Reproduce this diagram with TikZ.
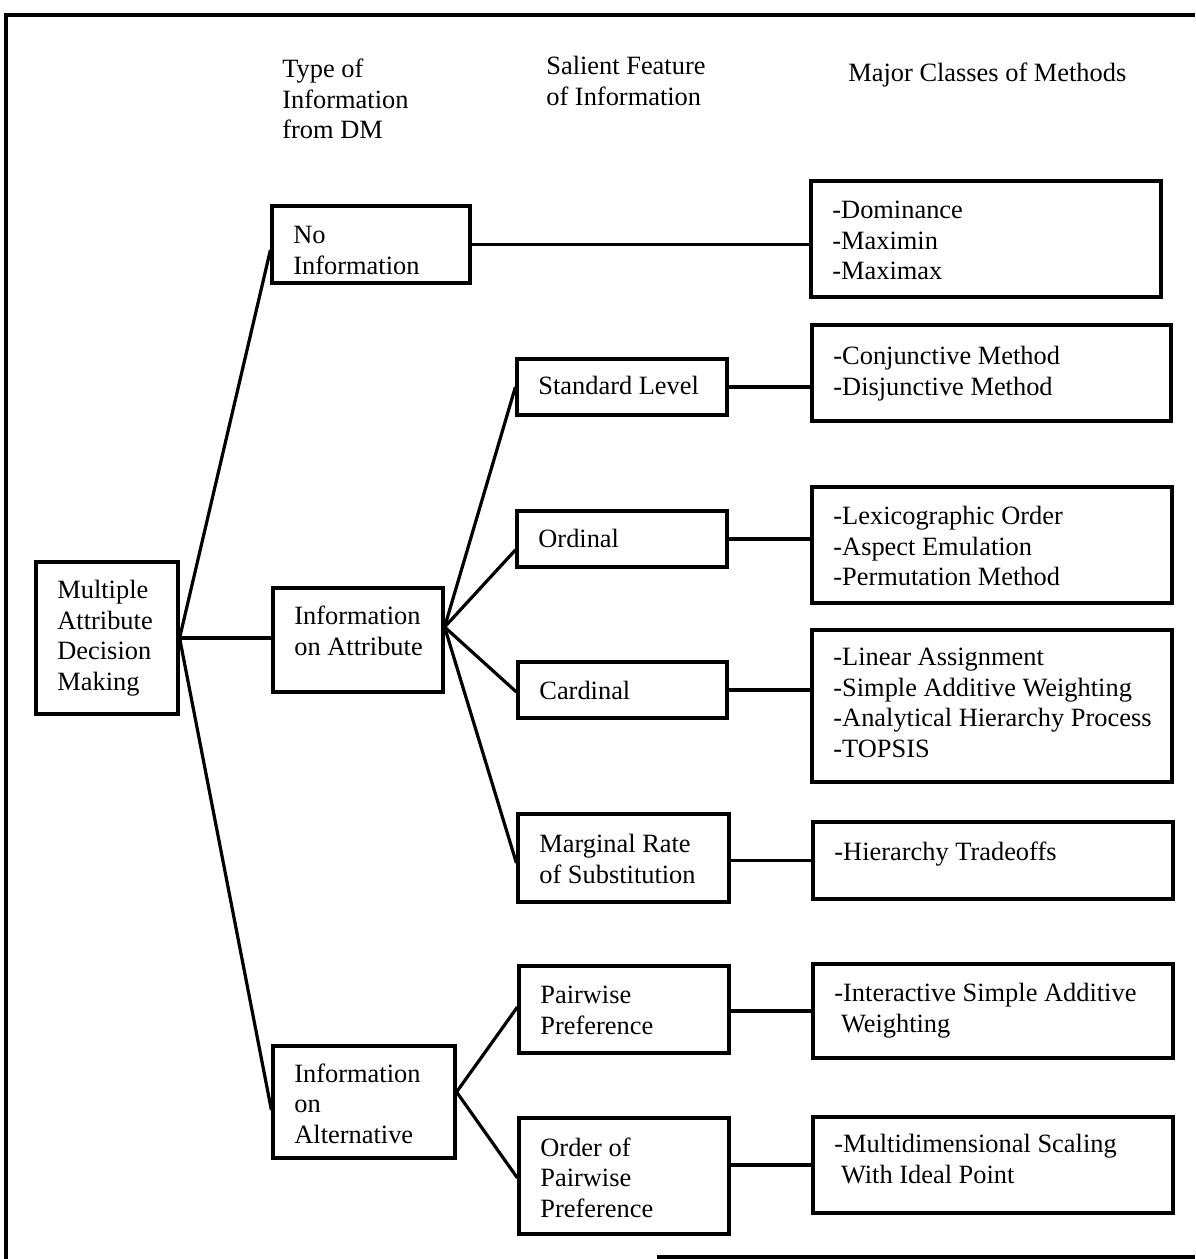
\documentclass[tikz,border=0pt]{standalone}
\usepackage{fontspec}
\setmainfont{Liberation Serif}
\usetikzlibrary{fit}

% #1 name, #2..#5 corners (x1,y1,x2,y2), #6 offset of the text top, #7 text
\newcommand\chartbox[7]{%
  \node[boxst, fit={(#2,#3) (#4,#5)}] (#1) {};
  \node[txtst] (#1-text) at (#2+21,#3+#6) {#7};}

\begin{document}
\begin{tikzpicture}[x=0.5pt,y=-0.5pt,
  boxst/.style={draw, line width=1.6pt, inner sep=0pt},
  txtst/.style={anchor=north west, inner sep=0pt, align=left,
                font=\fontsize{13.2}{15.25}\selectfont},
  link/.style={line width=1.6pt},
  frameline/.style={line width=1.6pt}]
\useasboundingbox (0,0) rectangle (1195,1259);

% outer frame
\draw[frameline] (6,1259) -- (6,15) -- (1195,15);
\draw[frameline] (657,1257) -- (1195,1257);

% column headings
\node[txtst] (hdtype) at (282,59) {Type of\\Information\\from DM};
\node[txtst] (hdsal)  at (546,56) {Salient Feature\\of Information};
\node[txtst] (hdmaj)  at (848,63) {Major Classes of Methods};

% root
\chartbox{madm}{36}{562}{178}{714}{18}{Multiple\\Attribute\\Decision\\Making}

% type of information
\chartbox{noinfo}{272}{206}{470}{283}{20}{No\\Information}
\chartbox{infoattr}{273}{588}{443}{692}{18}{Information\\on Attribute}
\chartbox{infoalt}{273}{1046}{455}{1158}{17}{Information\\on\\Alternative}

% salient features
\chartbox{std}{517}{359}{727}{415}{17}{Standard Level}
\chartbox{ord}{517}{511}{727}{567}{18}{Ordinal}
\chartbox{card}{518}{662}{727}{718}{19}{Cardinal}
\chartbox{marg}{518}{814}{729}{902}{20}{Marginal Rate\\of Substitution}
\chartbox{pair}{519}{966}{729}{1053}{20}{Pairwise\\Preference}
\chartbox{order}{519}{1118}{729}{1234}{19}{Order of\\Pairwise\\Preference}

% classes of methods
\chartbox{dom}{811}{181}{1161}{297}{20}{-Dominance\\-Maximin\\-Maximax}
\chartbox{conj}{812}{325}{1171}{421}{21}{-Conjunctive Method\\-Disjunctive Method}
\chartbox{lex}{812}{487}{1172}{603}{19}{-Lexicographic Order\\-Aspect Emulation\\-Permutation Method}
\chartbox{lin}{812}{630}{1172}{782}{18}{-Linear Assignment\\-Simple Additive Weighting\\-Analytical Hierarchy Process\\-TOPSIS}
\chartbox{hier}{813}{822}{1173}{899}{19}{-Hierarchy Tradeoffs}
\chartbox{inter}{813}{964}{1173}{1058}{19}{-Interactive Simple Additive\\\hspace*{0.25em}Weighting}
\chartbox{mds}{813}{1117}{1173}{1213}{17}{-Multidimensional Scaling\\\hspace*{0.25em}With Ideal Point}

% branching points
\coordinate (fa) at ([yshift=6.5pt]infoattr.east);
\coordinate (fb) at ([yshift=5pt]infoalt.east);

% root to types
\draw[link] (madm.east) -- ([yshift=-2.75pt]noinfo.west);
\draw[link] (madm.east) -- (infoattr.west |- madm.east);
\draw[link] (madm.east) -- ([yshift=-4pt]infoalt.west);

% types to features
\draw[link] (fa) -- (std.west);
\draw[link] (fa) -- ([yshift=-5.5pt]ord.west);
\draw[link] (fa) -- ([yshift=-1pt]card.west);
\draw[link] (fa) -- ([yshift=-2.5pt]marg.west);
\draw[link] (fb) -- ([yshift=1.25pt]pair.west);
\draw[link] (fb) -- ([yshift=-1pt]order.west);

% features to methods
\draw[link] (noinfo.east) -- (dom.west |- noinfo.east);
\draw[link] (std.east) -- (conj.west |- std.east);
\draw[link] (ord.east) -- (lex.west |- ord.east);
\draw[link] (card.east) -- (lin.west |- card.east);
\draw[link] (marg.east |- hier.west) -- (hier.west);
\draw[link] (pair.east |- inter.west) -- (inter.west);
\draw[link] (order.east |- mds.west) -- (mds.west);
\end{tikzpicture}
\end{document}
